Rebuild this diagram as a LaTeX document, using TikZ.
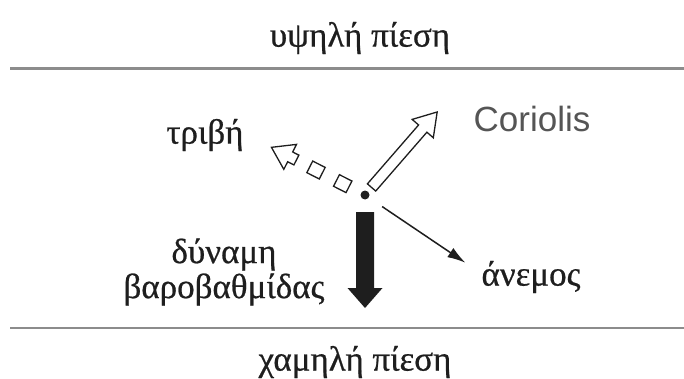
\documentclass[tikz,border=0pt]{standalone}
\usepackage{fontspec}
\setmainfont{Liberation Serif}[FakeBold=0.6]
\newfontfamily\latinsans{Liberation Sans}
\usepackage{tikz}
\usetikzlibrary{arrows.meta,positioning,calc}
\definecolor{ink}{HTML}{1E1E1E}
\definecolor{rule}{HTML}{8C8C8C}
\definecolor{muted}{HTML}{555555}
\tikzset{
  lbl/.style={font=\fontsize{35}{35}\selectfont,text=ink,inner sep=0pt},
  level/.style={line width=2.6pt,color=rule},
  hollow/.style={draw=ink,line width=1.3pt,fill=white,line join=miter},
  wind/.style={-{Latex[length=18pt,width=11pt]},line width=1.5pt,color=ink,shorten <=16pt}
}
\begin{document}
\begin{tikzpicture}[x=1pt,y=1pt]
  \useasboundingbox (0,0) rectangle (684,378);
  \draw[level] (10,309.5) -- (684,309.5);
  \draw[level] (10,50) -- (684,50);
  \node[lbl] (high) at (360,340) {υψηλή πίεση};
  \node[lbl] (low) at (355,16) {χαμηλή πίεση};
  \node[circle,fill=ink,inner sep=0pt,minimum size=9pt] (dot) at (365,183) {};
  % Coriolis
  \begin{scope}[shift={(dot)},rotate=49]
    \draw[hollow] (10,-5.5) -- (88,-5.5) -- (88,-14) -- (110,0) -- (88,14) -- (88,5.5) -- (10,5.5) -- cycle;
  \end{scope}
  % friction
  \begin{scope}[shift={(dot)},rotate=153]
    \draw[hollow] (18,-6.5) rectangle (32,6.5);
    \draw[hollow] (48,-6.5) rectangle (62,6.5);
    \draw[hollow] (77,-5.5) -- (84,-5.5) -- (84,-14) -- (105,0) -- (84,14) -- (84,5.5) -- (77,5.5) -- cycle;
  \end{scope}
  % pressure gradient
  \begin{scope}[shift={(dot)},rotate=-90]
    \fill[ink] (17,-9) -- (93,-9) -- (93,-17.5) -- (113,0) -- (93,17.5) -- (93,9) -- (17,9) -- cycle;
  \end{scope}
  \coordinate (windtip) at ($(dot)+(-34:121)$);
  \draw[wind] (dot) -- (windtip);
  \node[lbl] (friction) at (205,243) {τριβή};
  \node[lbl,font=\latinsans\fontsize{35}{40}\selectfont,text=muted] (coriolis) at (532,259) {Coriolis};
  \node[lbl,align=center] (gradient) at (224,106) {δύναμη\\βαροβαθμίδας};
  \node[lbl] (windlbl) at (531,101) {άνεμος};
\end{tikzpicture}
\end{document}
